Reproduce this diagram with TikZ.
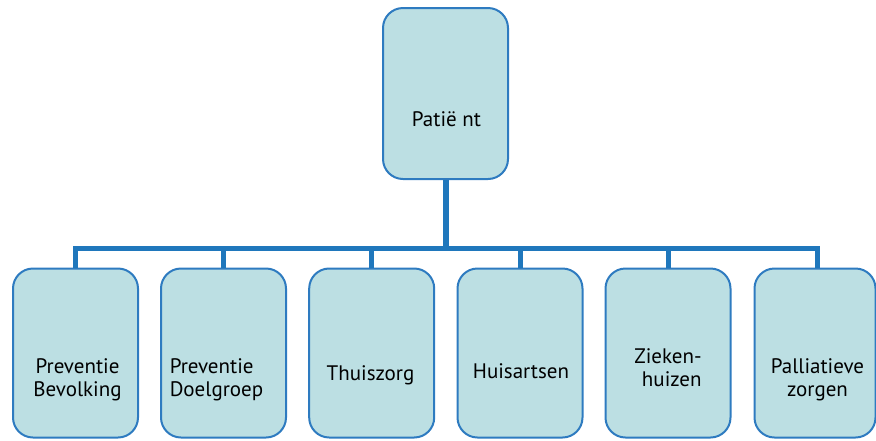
\documentclass[tikz,border=0pt]{standalone}
\usepackage{fontspec}
\setmainfont{PT Sans}
\definecolor{boxfill}{HTML}{BCDFE3}
\definecolor{boxline}{HTML}{2E7BC0}
\definecolor{connline}{HTML}{1F77BC}
\begin{document}
\begin{tikzpicture}[x=1pt,y=-1pt,
  orgbox/.style={draw=boxline,fill=boxfill,line width=2pt,rounded corners=20pt,minimum width=125pt,minimum height=169pt,inner sep=0pt},
  orgtext/.style={font=\fontsize{21}{23}\selectfont,inner sep=0pt,text=black,anchor=base},
  conn/.style={draw=connline,line width=5pt}]
\useasboundingbox (0,0) rectangle (876,440);
% boxes
\node[orgbox,minimum height=171pt] (top) at (445.5,93.5) {};
\node[orgbox] (b1) at (75.5,353) {};
\node[orgbox] (b2) at (223.5,353) {};
\node[orgbox] (b3) at (371.7,353) {};
\node[orgbox] (b4) at (520,353) {};
\node[orgbox] (b5) at (668,353) {};
\node[orgbox,minimum width=121pt] (b6) at (815,353) {};
% texts
\node[orgtext] (t0) at (446.5,126) {Patië nt};
\node[orgtext,align=center] (t1) at (77.5,396) {Preventie\\Bevolking};
\node[orgtext,align=left] (t2) at (216.5,396) {Preventie\\Doelgroep};
\node[orgtext] (t3) at (370.5,380) {Thuiszorg};
\node[orgtext] (t4) at (521,378) {Huisartsen};
\node[orgtext,align=right] (t5) at (668,386) {Zieken-\\huizen};
\node[orgtext,align=center] (t6) at (817.5,396) {Palliatieve\\zorgen};
% connectors
\coordinate (busL) at (75.5,248);
\coordinate (busR) at (817,248);
\draw[conn] ([xshift=-2.5pt]busL) -- ([xshift=2.5pt]busR);
\draw[conn,line width=6pt] ([xshift=0.5pt]top.south) -- ([xshift=0.5pt]top.south |- busL);
\foreach \b in {b1,b2,b3,b4,b5} {
  \draw[conn] (\b.north) -- (\b.north |- busL);
}
\draw[conn] ([xshift=2pt]b6.north) -- ([xshift=2pt]b6.north |- busR);
\end{tikzpicture}
\end{document}
